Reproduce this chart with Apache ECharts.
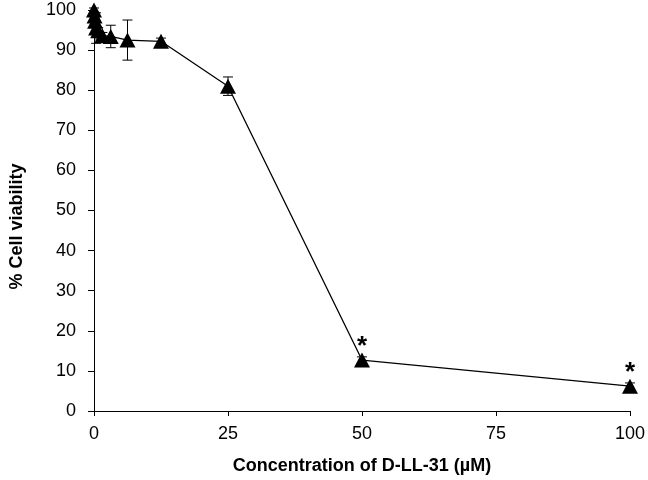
<!DOCTYPE html>
<html>
<head>
<meta charset="utf-8">
<script src="https://cdn.jsdelivr.net/npm/echarts@6/dist/echarts.min.js"></script>
<style>
  html, body { margin: 0; padding: 0; background: #fff; }
  #chart { width: 648px; height: 480px; }
</style>
</head>
<body>
<div id="chart"></div>
<script>
// D-LL-31 concentration (µM), two-fold dilutions
const conc = [0, 0.1, 0.2, 0.39, 0.78, 1.56, 3.125, 6.25, 12.5, 25, 50, 100];
const viability = [100, 98.5, 97.2, 95.5, 94.8, 93.6, 93.4, 92.5, 92.2, 81, 12.7, 6.2];
const errorSd = [0.5, 0.8, 0.8, 3.8, 0.8, 0.8, 2.8, 5, 0.8, 2.3, 0.8, 0.8];
const signif = ['', '', '', '', '', '', '', '', '', '', '*', '*'];
const xTicks = [0, 25, 50, 75, 100];

const FONT = '"Liberation Sans", Arial, sans-serif';

const points = conc.map((c, i) => [c, viability[i]]);
const bars = conc.map((c, i) => [c, viability[i] - errorSd[i], viability[i] + errorSd[i]]);

const chart = echarts.init(document.getElementById('chart'));
chart.setOption({
  animation: false,
  backgroundColor: '#fff',
  grid: { left: 84, right: 17, top: 10, bottom: 67, containLabel: false },
  xAxis: {
    type: 'value',
    min: 0, max: 100, interval: 25,
    name: 'Concentration of D-LL-31 (µM)',
    nameLocation: 'middle',
    nameGap: 46,
    nameTextStyle: { fontFamily: FONT, fontSize: 18, fontWeight: 'bold', color: '#000' },
    axisLine: { lineStyle: { color: '#000', width: 1 } },
    axisTick: { show: true, length: 5, lineStyle: { color: '#000' }, customValues: xTicks },
    axisLabel: { fontFamily: FONT, fontSize: 18, color: '#000', margin: 14, customValues: xTicks },
    splitLine: { show: false },
  },
  yAxis: {
    type: 'value',
    min: 0, max: 100, interval: 10,
    name: '% Cell viability',
    nameLocation: 'middle',
    nameGap: 68,
    nameTextStyle: { fontFamily: FONT, fontSize: 18, fontWeight: 'bold', color: '#000', padding: [0, 0, 0, -32] },
    axisLine: { show: true, lineStyle: { color: '#000', width: 1 } },
    axisTick: { show: true, length: 6, lineStyle: { color: '#000' } },
    axisLabel: { fontFamily: FONT, fontSize: 18, color: '#000', margin: 18 },
    splitLine: { show: false },
  },
  series: [
    {
      type: 'custom',
      data: bars,
      z: 3,
      renderItem(params, api) {
        const x = api.value(0);
        const lo = api.coord([x, api.value(1)]);
        const hi = api.coord([x, api.value(2)]);
        const cap = 5;
        const st = { stroke: '#000', lineWidth: 1 };
        return {
          type: 'group',
          children: [
            { type: 'line', shape: { x1: lo[0], y1: lo[1], x2: hi[0], y2: hi[1] }, style: st },
            { type: 'line', shape: { x1: lo[0] - cap, y1: lo[1], x2: lo[0] + cap, y2: lo[1] }, style: st },
            { type: 'line', shape: { x1: hi[0] - cap, y1: hi[1], x2: hi[0] + cap, y2: hi[1] }, style: st },
          ],
        };
      },
    },
    {
      type: 'line',
      data: points,
      z: 4,
      symbol: 'triangle',
      symbolSize: [16, 15],
      itemStyle: { color: '#000' },
      lineStyle: { color: '#000', width: 1.3 },
      label: {
        show: true,
        position: 'top',
        distance: 0,
        offset: [0, 7],
        fontFamily: FONT,
        fontSize: 26,
        fontWeight: 'bold',
        color: '#000',
        formatter: (p) => signif[p.dataIndex],
      },
    },
  ],
});
</script>
</body>
</html>
